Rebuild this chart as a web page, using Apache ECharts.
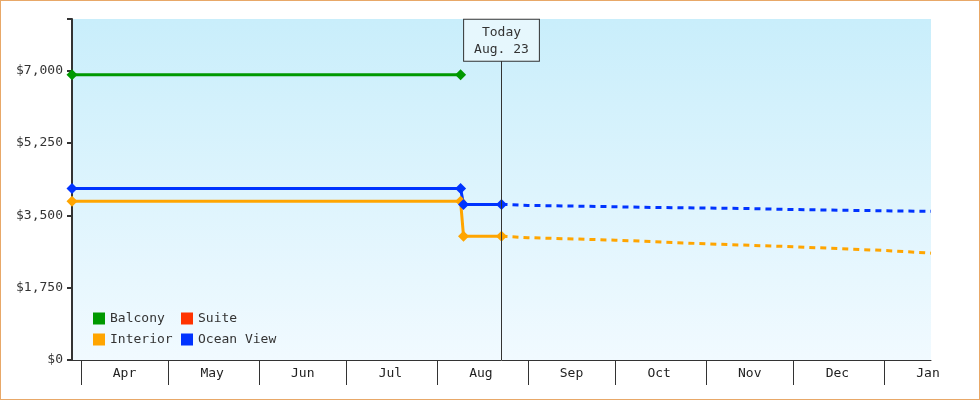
<!DOCTYPE html>
<html><head><meta charset="utf-8">
<script src="https://cdn.jsdelivr.net/npm/echarts@6/dist/echarts.min.js"></script>
<style>html,body{margin:0;padding:0}#c{width:978px;height:398px;border:1px solid #e8a868}</style>
</head><body><div id="c"></div>
<script>
const yTicks = [0, 1750, 3500, 5250, 7000];
const today = '2024-08-23';
const balcony = [['2024-03-29', 6900], ['2024-08-09', 6900]];
const suite = [];
const interior = [['2024-03-29', 3840], ['2024-08-09', 3840], ['2024-08-10', 2995], ['2024-08-23', 2995]];
const oceanView = [['2024-03-29', 4150], ['2024-08-09', 4150], ['2024-08-10', 3765], ['2024-08-23', 3765]];
const interiorForecast = [['2024-08-23', 2995], ['2024-09-01', 2960], ['2024-10-01', 2900], ['2024-11-01', 2810], ['2024-12-01', 2740], ['2025-01-01', 2650], ['2025-01-17', 2585]];
const oceanForecast = [['2024-08-23', 3765], ['2024-09-01', 3740], ['2024-09-25', 3715], ['2024-10-15', 3690], ['2024-11-15', 3665], ['2024-12-01', 3640], ['2024-12-20', 3620], ['2025-01-17', 3597]];
const monthNames = ['Jan','Feb','Mar','Apr','May','Jun','Jul','Aug','Sep','Oct','Nov','Dec'];
const colors = {Balcony:'#009900', Suite:'#ff3300', Interior:'#ffa500', 'Ocean View':'#0033ff'};
const font = 'DejaVu Sans Mono';
const chart = echarts.init(document.getElementById('c'));
function solid(name, data) {
  return {name, type:'line', data, color:colors[name], symbol:'diamond', symbolSize:11,
    lineStyle:{width:3}, z:3};
}
function dashed(name, data) {
  return {name, type:'line', data, color:colors[name], symbol:'none',
    lineStyle:{width:3, type:[6,5]}, z:2};
}
const leg = {orient:'vertical', bottom:53, icon:'rect', itemWidth:12, itemHeight:12, itemGap:8,
  textStyle:{fontFamily:font, fontSize:13, color:'#333'}, padding:0};
chart.setOption({
  animation:false,
  textStyle:{fontFamily:font},
  grid:{left:71, right:48, top:18, bottom:39,
    backgroundColor:new echarts.graphic.LinearGradient(0,0,0,1,[{offset:0,color:'#c9eefb'},{offset:1,color:'#f1faff'}]),
    show:true, borderWidth:0},
  legend:[
    Object.assign({left:92, data:['Balcony','Interior']}, leg),
    Object.assign({left:180, data:['Suite','Ocean View']}, leg)
  ],
  xAxis:{type:'time', min:'2024-03-29', max:'2025-01-17',
    splitNumber:12, minInterval:28*86400000,
    axisLine:{lineStyle:{color:'#333', width:1}},
    axisTick:{show:true, length:25, lineStyle:{color:'#333'}},
    splitLine:{show:false},
    axisLabel:{fontFamily:font, fontSize:13, color:'#222', align:'left', padding:[0,0,0,32], margin:7,
      formatter:v => monthNames[new Date(v).getMonth()]}},
  yAxis:{type:'value', min:0, max:8250, interval:1750,
    axisLine:{show:true, lineStyle:{color:'#333', width:2}},
    axisTick:{show:true, length:5, lineStyle:{color:'#333', width:2}},
    splitLine:{show:false},
    axisLabel:{fontFamily:font, fontSize:13, color:'#333', margin:9,
      formatter:v => yTicks.includes(v) ? '$' + v.toLocaleString('en-US') : ''}},
  series:[
    solid('Balcony', balcony),
    solid('Suite', suite),
    solid('Interior', interior),
    dashed('Interior', interiorForecast),
    Object.assign(solid('Ocean View', oceanView), {
      markLine:{silent:true, symbol:'none', animation:false,
        lineStyle:{color:'#333', width:1, type:'solid'},
        label:{position:'end', distance:0, formatter:'Today\nAug. 23', fontFamily:font, fontSize:13, color:'#333',
          backgroundColor:'#e6f7fd', borderColor:'#333', borderWidth:1, padding:[4,10,3,10], lineHeight:17},
        data:[[{coord:[today,0]},{coord:[today,7241]}]]}
    }),
    dashed('Ocean View', oceanForecast)
  ]
});
</script></body></html>
